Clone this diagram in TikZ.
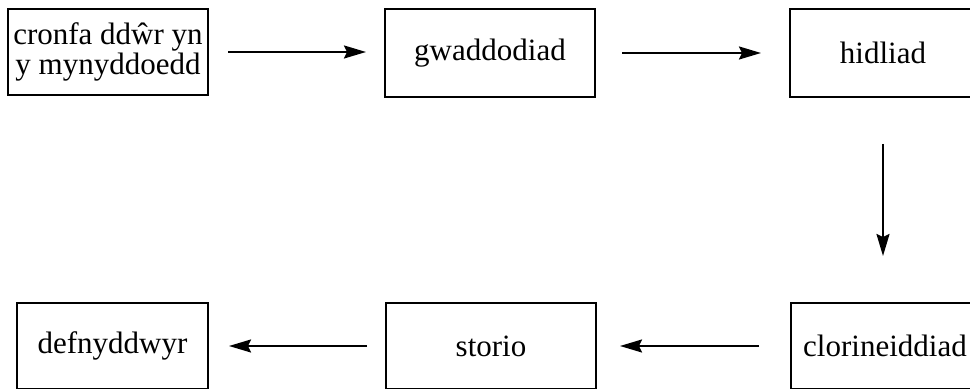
\documentclass[tikz,border=0pt]{standalone}
\usepackage{fontspec}
\setmainfont{Liberation Serif}
\usetikzlibrary{arrows.meta,positioning,calc}

\tikzset{
  stage/.style={draw, line width=1pt, inner sep=0pt, align=center,
    minimum height=43pt, font=\fontsize{15.5}{15}\selectfont},
  flow/.style={-{Stealth[length=11pt,width=6.5pt,inset=1.5pt]}, line width=1pt}
}

\begin{document}
\begin{tikzpicture}[x=0.5pt,y=-0.5pt]
\useasboundingbox (0,0) rectangle (970,389);
% top row
\node [stage,minimum width=100pt] (cronfa) at (108,52) {cronfa ddŵr yn\\y mynyddoedd};
\node [stage,minimum width=105pt,minimum height=44pt] (gwaddod) at (490,53) {gwaddodiad};
\node [stage,minimum width=93pt,minimum height=44pt] (hidlo) at (883,53) {hidliad};
% bottom row
\node [stage,minimum width=94pt] (clorin) at (885,346) {clorineiddiad};
\node [stage,minimum width=105pt] (storio) at (491,346) {storio};
\node [stage,minimum width=95.5pt] (defn) at (112.5,346) {defnyddwyr};
% arrows
\draw [flow,shorten <=9.5pt,shorten >=9pt] (cronfa.east) -- (cronfa.east -| gwaddod.west);
\draw [flow,shorten <=13pt,shorten >=14pt] (gwaddod.east) -- (gwaddod.east -| hidlo.west);
\draw [flow,shorten <=23pt,shorten >=23pt] (hidlo.south) -- (hidlo.south |- clorin.north);
\draw [flow,shorten <=15.5pt,shorten >=11.5pt] (clorin.west) -- (storio.east);
\draw [flow,shorten <=9pt,shorten >=10pt] (storio.west) -- (defn.east);
\end{tikzpicture}
\end{document}
